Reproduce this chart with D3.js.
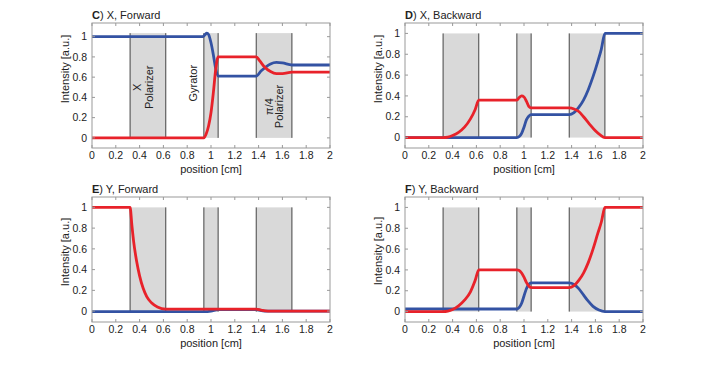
<!DOCTYPE html>
<meta charset="utf-8">
<head>
<script src="https://d3js.org/d3.v7.min.js"></script>
<style>
  body { margin: 0; background: #fff; }
  text { font-family: "Liberation Sans", Arial, sans-serif; fill: #222; }
</style>
</head>
<body>
<svg id="fig" width="711" height="367"></svg>
<script>
// element positions along the path [cm]
var bands = [[0.32, 0.62], [0.94, 1.06], [1.38, 1.68]];
var xTicks = [0, 0.2, 0.4, 0.6, 0.8, 1, 1.2, 1.4, 1.6, 1.8, 2];
var yTicks = [0, 0.2, 0.4, 0.6, 0.8, 1];

// C) X, Forward
var cBlue = [[0,1],[0.93,1],[0.95,1.02],[0.965,1.035],[0.98,1.02],[1.0,0.94],[1.02,0.82],[1.04,0.68],[1.06,0.61],
  [1.38,0.61],[1.42,0.66],[1.46,0.70],[1.5,0.73],[1.55,0.745],[1.6,0.74],[1.68,0.72],[2,0.72]];
var cRed = [[0,0],[0.94,0],[0.96,0.04],[0.98,0.12],[1.0,0.25],[1.02,0.45],[1.04,0.68],[1.06,0.80],
  [1.38,0.80],[1.41,0.76],[1.45,0.70],[1.5,0.655],[1.55,0.635],[1.6,0.635],[1.68,0.65],[2,0.65]];
// D) X, Backward
var dBlue = [[0,0],[0.94,0],[0.96,0.01],[0.98,0.04],[1.0,0.1],[1.02,0.17],[1.04,0.205],[1.06,0.22],
  [1.38,0.22],[1.42,0.24],[1.46,0.29],[1.5,0.36],[1.54,0.46],[1.58,0.585],[1.62,0.73],[1.65,0.85],[1.68,1.0],[2,1.0]];
var dRed = [[0,0],[0.32,0],[0.36,0.005],[0.40,0.02],[0.45,0.05],[0.50,0.10],[0.55,0.18],[0.59,0.27],[0.62,0.36],
  [0.94,0.36],[0.96,0.385],[0.98,0.40],[1.0,0.39],[1.02,0.35],[1.04,0.30],[1.06,0.285],
  [1.38,0.285],[1.42,0.275],[1.46,0.25],[1.5,0.2],[1.55,0.13],[1.6,0.065],[1.64,0.025],[1.68,0],[2,0]];
// E) Y, Forward
var eBlue = [[0,-0.005],[0.94,-0.005],[1.0,0.0],[1.06,0.015],[1.38,0.015],[1.45,0.0],[2,0]];
var eRed = [[0,1],[0.32,1],[0.335,0.83],[0.35,0.67],[0.375,0.48],[0.40,0.34],[0.43,0.22],[0.46,0.14],[0.50,0.08],
  [0.55,0.04],[0.62,0.02],[1.38,0.02],[1.42,0.01],[1.48,0.0],[2,0]];
// F) Y, Backward
var fBlue = [[0,0.025],[0.94,0.025],[0.96,0.04],[0.98,0.08],[1.0,0.15],[1.02,0.22],[1.04,0.26],[1.06,0.275],
  [1.38,0.275],[1.42,0.26],[1.46,0.22],[1.5,0.16],[1.54,0.10],[1.58,0.05],[1.63,0.015],[1.68,0],[2,0]];
var fRed = [[0,0],[0.32,0],[0.36,0.005],[0.40,0.02],[0.45,0.055],[0.50,0.11],[0.55,0.19],[0.59,0.30],[0.62,0.40],
  [0.94,0.40],[0.96,0.395],[0.98,0.37],[1.0,0.33],[1.02,0.28],[1.04,0.245],[1.06,0.23],
  [1.38,0.23],[1.42,0.25],[1.46,0.30],[1.5,0.37],[1.54,0.47],[1.58,0.60],[1.62,0.75],[1.65,0.86],[1.68,1.0],[2,1.0]];

var panels = [
  {tag: "C", title: ") X, Forward",  left: 92,  top: 23,  w: 238, lab: 69,  blue: cBlue, red: cRed, notes: true},
  {tag: "D", title: ") X, Backward", left: 405, top: 23,  w: 238, lab: 69,  blue: dBlue, red: dRed},
  {tag: "E", title: ") Y, Forward",  left: 92,  top: 197, w: 238, lab: 252, blue: eBlue, red: eRed},
  {tag: "F", title: ") Y, Backward", left: 405, top: 197, w: 238, lab: 251, blue: fBlue, red: fRed}
];
var H = 125;
var svg = d3.select("#fig");

panels.forEach(function(p) {
  var all = p.blue.concat(p.red).map(function(d){ return d[1]; });
  var lo = d3.min(all), hi = d3.max(all);
  var x = d3.scaleLinear().domain([0, 2]).range([p.left, p.left + p.w]);
  var y = d3.scaleLinear().domain([lo - 0.1, hi + 0.1]).range([p.top + H, p.top]);
  var g = svg.append("g");

  // optical elements
  bands.forEach(function(b) {
    g.append("rect").attr("x", x(b[0])).attr("y", y(hi))
      .attr("width", x(b[1]) - x(b[0])).attr("height", y(lo) - y(hi))
      .attr("fill", "#d9d9d9");
    b.forEach(function(v) {
      g.append("line").attr("x1", x(v)).attr("x2", x(v)).attr("y1", y(lo)).attr("y2", y(hi))
        .attr("stroke", "#444").attr("stroke-width", 1);
    });
  });

  if (p.notes) {
    var notes = [
      {t: "X", x: 0.38, y: 0.5}, {t: "Polarizer", x: 0.48, y: 0.5},
      {t: "Gyrator", x: 0.85, y: 0.54},
      {t: "π/4", x: 1.49, y: 0.31}, {t: "Polarizer", x: 1.575, y: 0.31}
    ];
    notes.forEach(function(n) {
      g.append("text").attr("transform", "translate(" + x(n.x) + "," + y(n.y) + ") rotate(-90)")
        .attr("text-anchor", "middle").attr("dy", "0.35em")
        .style("font-size", "11px").text(n.t);
    });
  }

  var line = d3.line().x(function(d){ return x(d[0]); }).y(function(d){ return y(d[1]); })
    .curve(d3.curveMonotoneX);
  g.append("path").datum(p.blue).attr("d", line).attr("fill", "none")
    .attr("stroke", "#3352a3").attr("stroke-width", 2.8);
  g.append("path").datum(p.red).attr("d", line).attr("fill", "none")
    .attr("stroke", "#e8222a").attr("stroke-width", 2.8);

  // box + inward ticks
  var bx = p.left, by = p.top, bw = p.w;
  g.append("rect").attr("x", bx).attr("y", by).attr("width", bw).attr("height", H)
    .attr("fill", "none").attr("stroke", "#999").attr("stroke-width", 1);
  xTicks.forEach(function(t) {
    g.append("line").attr("x1", x(t)).attr("x2", x(t)).attr("y1", by + H).attr("y2", by + H - 3).attr("stroke", "#999");
    g.append("line").attr("x1", x(t)).attr("x2", x(t)).attr("y1", by).attr("y2", by + 3).attr("stroke", "#999");
    g.append("text").attr("x", x(t)).attr("y", by + H + 11).attr("text-anchor", "middle")
      .style("font-size", "10.5px").text(t);
  });
  yTicks.forEach(function(t) {
    g.append("line").attr("x1", bx).attr("x2", bx + 3).attr("y1", y(t)).attr("y2", y(t)).attr("stroke", "#999");
    g.append("line").attr("x1", bx + bw).attr("x2", bx + bw - 3).attr("y1", y(t)).attr("y2", y(t)).attr("stroke", "#999");
    g.append("text").attr("x", bx - 5).attr("y", y(t)).attr("dy", "0.35em").attr("text-anchor", "end")
      .style("font-size", "10.5px").text(t);
  });

  g.append("text").attr("x", bx + bw / 2).attr("y", by + H + 24.5).attr("text-anchor", "middle")
    .style("font-size", "11px").text("position [cm]");
  g.append("text").attr("transform", "translate(" + (bx - 27) + "," + p.lab + ") rotate(-90)")
    .attr("text-anchor", "middle").attr("dy", "0.35em")
    .style("font-size", "11px").text("Intensity [a.u.]");

  var tt = g.append("text").attr("x", bx).attr("y", by - 4).style("font-size", "11px");
  tt.append("tspan").style("font-weight", "bold").text(p.tag);
  tt.append("tspan").text(p.title);
});
</script>
</body>
